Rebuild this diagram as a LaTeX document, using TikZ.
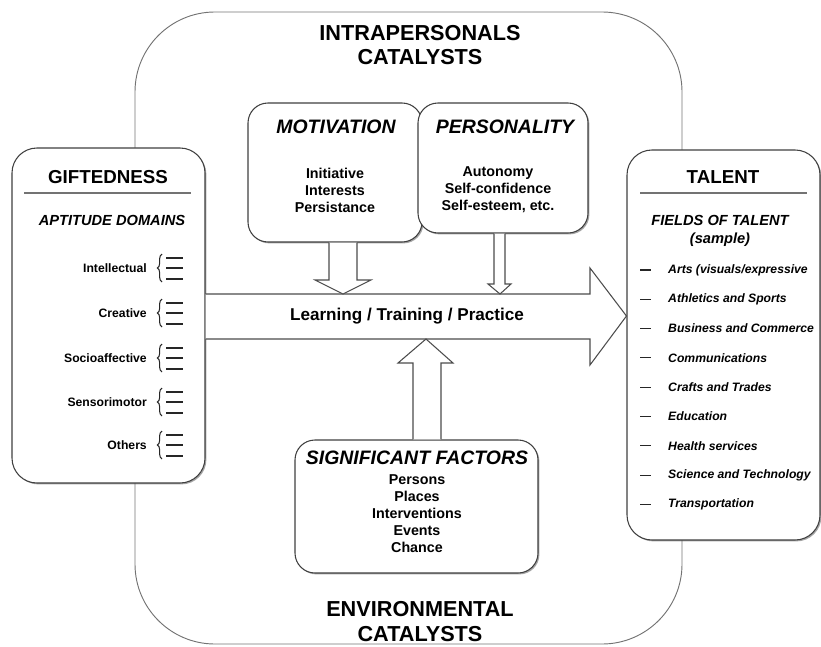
\documentclass[tikz,border=0pt]{standalone}
\usepackage{fontspec}
\setmainfont{Liberation Sans}
\usetikzlibrary{positioning, calc, decorations.pathreplacing, shadows}

\begin{document}
\begin{tikzpicture}[
    x=0.03cm, y=-0.03cm,
    catalyst/.style={draw=black!55, line width=0.8pt, rounded corners=2.4cm, inner sep=0pt},
    panel/.style={draw=black!75, line width=0.9pt, fill=white, rounded corners=0.75cm, inner sep=0pt,
        drop shadow={shadow xshift=1.2pt, shadow yshift=-1.2pt, fill=black!70}},
    factor/.style={panel, rounded corners=0.6cm},
    cattext/.style={font=\fontsize{18.5}{20.9}\selectfont\bfseries, align=center},
    paneltitle/.style={font=\fontsize{16}{19}\selectfont\bfseries},
    factortitle/.style={font=\fontsize{16.6}{19}\selectfont\bfseries\itshape},
    subtitle/.style={font=\fontsize{12.5}{15.4}\selectfont\bfseries\itshape, align=center},
    aptitude/.style={font=\fontsize{10.4}{12}\selectfont\bfseries, anchor=east, inner sep=0pt},
    field/.style={font=\fontsize{10.4}{12}\selectfont\bfseries\itshape, anchor=west, inner sep=0pt},
    factoritem/.style={font=\fontsize{12.2}{14.5}\selectfont\bfseries, align=center},
    flowtext/.style={font=\fontsize{14.6}{17}\selectfont\bfseries},
    flow/.style={draw=black!70, line width=0.9pt, fill=white},
    rule/.style={draw=black!55, line width=0.9pt},
    tick/.style={draw=black!85, line width=0.9pt}
]
\useasboundingbox (0,0) rectangle (821,646);

% Catalysts frame
\node[catalyst, minimum width=16.41cm, minimum height=18.96cm] (frame) at (408.5,328) {};
\node[cattext] (intra) at (420,45) {INTRAPERSONALS\\CATALYSTS};
\node[cattext] (enviro) at (420,621.5) {ENVIRONMENTAL\\CATALYSTS};

% Giftedness
\node[panel, minimum width=5.79cm, minimum height=10.05cm] (gift) at (108.5,315.5) {};
\node[paneltitle] (giftT) at (108,177) {GIFTEDNESS};
\draw[rule] (24,193) -- (191,193);
\node[subtitle] (aptT) at (112,220) {APTITUDE DOMAINS};
\foreach \name/\y in {Intellectual/268, Creative/313, Socioaffective/358, Sensorimotor/402, Others/445} {
    \node[aptitude] (apt\y) at (147,\y) {\name};
    \draw[tick, decorate, decoration={brace, amplitude=4pt}] (162,\y+14) -- (162,\y-14);
    \foreach \d in {-10,0,11}
        \draw[tick] ($(apt\y.east)+(19,\d)$) -- ++(17,0);
}

% Talent
\node[panel, minimum width=5.79cm, minimum height=11.7cm] (talent) at (723.5,345) {};
\node[paneltitle] (talentT) at (723,177) {TALENT};
\draw[rule] (640,193) -- (807,193);
\node[subtitle] (fieldT) at (720,231) {FIELDS OF TALENT\\(sample)};
\foreach \fname [count=\i] in {{Arts (visuals/expressive}, {Athletics and Sports}, {Business and Commerce},
    {Communications}, {Crafts and Trades}, {Education}, {Health services}, {Science and Technology}, {Transportation}} {
    \node[field] (field\i) at (668,{270+29.3*(\i-1)}) {\fname};
    \draw[tick] ($(field\i.west)+(-28,0)$) -- ++(11,0);
}

% Intrapersonal catalysts
\node[factor, minimum width=5.22cm, minimum height=4.17cm] (mot) at (335,172.5) {};
\node[factortitle] (motT) at (336,127) {MOTIVATION};
\node[factoritem] (motI) at (335,190) {Initiative\\Interests\\Persistance};

\node[factor, minimum width=5.1cm, minimum height=3.9cm] (pers) at (503,168) {};
\node[factortitle] (persT) at (505,127) {PERSONALITY};
\node[factoritem] (persI) at (498,190) {Autonomy\\Self-confidence\\Self-esteem, etc.};

% Environmental catalysts
\node[factor, minimum width=7.29cm, minimum height=3.99cm] (sig) at (416.5,506.5) {};
\node[factortitle] (sigT) at (417,458) {SIGNIFICANT FACTORS};
\node[factoritem] (sigI) at (417,514) {Persons\\Places\\Interventions\\Events\\Chance};

% Developmental process
\coordinate (axis) at (407,316);
\coordinate (tip) at (talent.west |- axis);
\draw[flow] (gift.east |- 0,294) -- (590,294) -- (590,268) -- (tip) -- (590,365) -- (590,339) -- (gift.east |- 0,339);
\node[flowtext] (learn) at (axis) {Learning / Training / Practice};

% Catalyst arrows
\draw[flow] (329,0 |- mot.south) -- (329,280) -- (315,280) -- (343,294) -- (371,280) -- (357,280) -- (357,0 |- mot.south);
\draw[flow] (494,0 |- pers.south) -- (494,284) -- (488,284) -- (500,294) -- (511,284) -- (505,284) -- (505,0 |- pers.south);
\draw[flow] (413,0 |- sig.north) -- (413,363) -- (398,363) -- (426,339) -- (453,363) -- (441,363) -- (441,0 |- sig.north);

\end{tikzpicture}
\end{document}
